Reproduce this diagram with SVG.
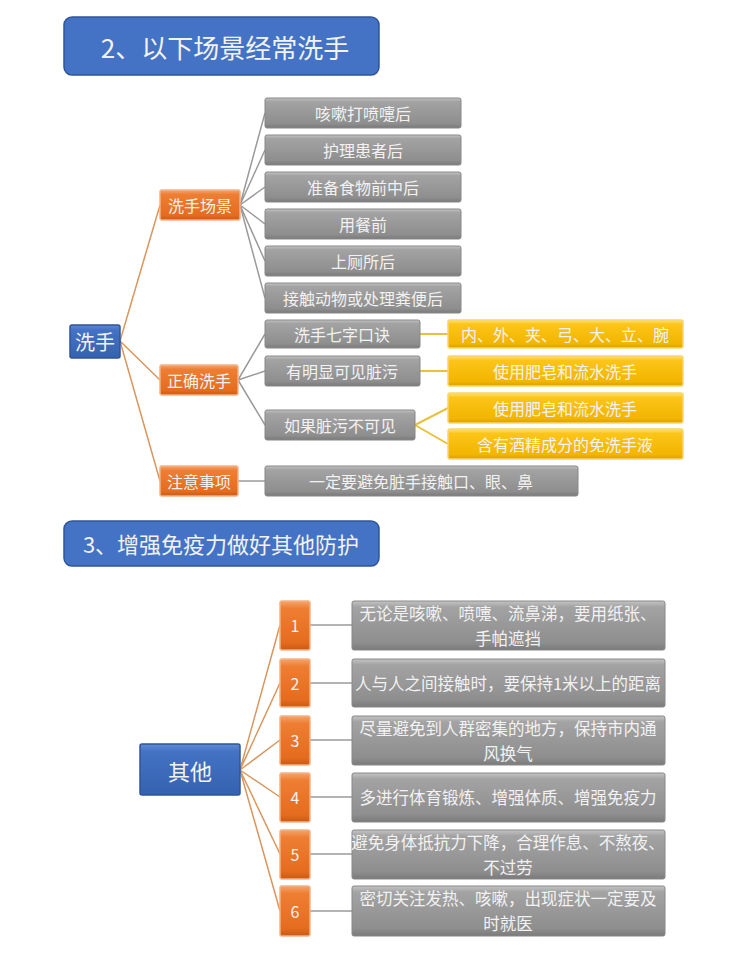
<svg xmlns="http://www.w3.org/2000/svg" width="754" height="961" viewBox="0 0 754 961">
<defs>
<linearGradient id="gGray" x1="0" y1="0" x2="0" y2="1">
<stop offset="0" stop-color="#c4c4c4"/><stop offset="0.12" stop-color="#a3a3a3"/><stop offset="0.85" stop-color="#8e8e8e"/><stop offset="1" stop-color="#7a7a7a"/>
</linearGradient>
<linearGradient id="gOrange" x1="0" y1="0" x2="0" y2="1">
<stop offset="0" stop-color="#f6a56d"/><stop offset="0.15" stop-color="#ee7e33"/><stop offset="0.85" stop-color="#e46c1f"/><stop offset="1" stop-color="#c85a14"/>
</linearGradient>
<linearGradient id="gYellow" x1="0" y1="0" x2="0" y2="1">
<stop offset="0" stop-color="#ffe27a"/><stop offset="0.15" stop-color="#fcc518"/><stop offset="0.85" stop-color="#f2b500"/><stop offset="1" stop-color="#d99f00"/>
</linearGradient>
<linearGradient id="gBlue" x1="0" y1="0" x2="0" y2="1">
<stop offset="0" stop-color="#5f8ad6"/><stop offset="0.15" stop-color="#4472c4"/><stop offset="1" stop-color="#3561b0"/>
</linearGradient>
</defs>
<style>
text{font-family:"Noto Sans CJK SC","Noto Sans",sans-serif;fill:#f2f2f2;text-anchor:middle;dominant-baseline:central}
.gray{fill:url(#gGray);stroke:#888;stroke-width:1}
.orange{fill:url(#gOrange);stroke:#f3b184;stroke-width:1.5}
.yellow{fill:url(#gYellow);stroke:#f7d66a;stroke-width:1.5}
.blue{fill:url(#gBlue);stroke:#2f5597;stroke-width:1.5}
.title{fill:#4472c4;stroke:#2f5597;stroke-width:1.5}
.t16{font-size:16px}
.t15{font-size:16.5px}
.lo{stroke:#d9965f;stroke-width:1.5;fill:none}
.lg{stroke:#9a9a9a;stroke-width:1.5;fill:none}
.ly{stroke:#e8c23a;stroke-width:2;fill:none}
</style>
<rect width="754" height="961" fill="#ffffff"/>

<g id="title1"><rect class="title" x="64" y="17" width="315" height="58" rx="8"/><text x="225" y="46" style="font-size:26px">2、以下场景经常洗手</text></g>
<g id="title2"><rect class="title" x="64" y="521" width="315" height="45" rx="8"/><text x="221" y="543" style="font-size:22px">3、增强免疫力做好其他防护</text></g>

<g id="connectors">
<path class="lo" d="M120 341L160 205M120 341L160 380M120 341L160 481"/>
<path class="lg" d="M240 205L265 113M240 205L265 150M240 205L265 187M240 205L265 224M240 205L265 261M240 205L265 298"/>
<path class="lg" d="M238 380L265 334M238 380L265 371M238 380L265 425M238 481L265 481"/>
<path class="ly" d="M420 334L448 334M420 371L448 371M415 425L448 408M415 425L448 444"/>
<path class="lo" d="M240 770L280 625M240 770L280 683M240 770L280 740M240 770L280 797M240 770L280 854M240 770L280 911"/>
<path class="lg" d="M310 625L352 625M310 683L352 683M310 740L352 740M310 797L352 797M310 854L352 854M310 911L352 911"/>
</g>

<g id="n-xishou"><rect class="blue" x="70" y="325" width="50" height="33" rx="2"/><text x="95" y="341" style="font-size:20px">洗手</text></g>
<g id="n-changjing"><rect class="orange" x="160" y="190" width="80" height="30" rx="2"/><text class="t16" x="200" y="205">洗手场景</text></g>
<g id="n-zhengque"><rect class="orange" x="160" y="365" width="78" height="30" rx="2"/><text class="t16" x="199" y="380">正确洗手</text></g>
<g id="n-zhuyi"><rect class="orange" x="160" y="466" width="78" height="30" rx="2"/><text class="t16" x="199" y="481">注意事项</text></g>

<g id="s1"><rect class="gray" x="265" y="98" width="196" height="30" rx="2"/><text class="t16" x="363" y="113">咳嗽打喷嚏后</text></g>
<g id="s2"><rect class="gray" x="265" y="135" width="196" height="30" rx="2"/><text class="t16" x="363" y="150">护理患者后</text></g>
<g id="s3"><rect class="gray" x="265" y="172" width="196" height="30" rx="2"/><text class="t16" x="363" y="187">准备食物前中后</text></g>
<g id="s4"><rect class="gray" x="265" y="209" width="196" height="30" rx="2"/><text class="t16" x="363" y="224">用餐前</text></g>
<g id="s5"><rect class="gray" x="265" y="246" width="196" height="30" rx="2"/><text class="t16" x="363" y="261">上厕所后</text></g>
<g id="s6"><rect class="gray" x="265" y="283" width="196" height="30" rx="2"/><text class="t16" x="363" y="298">接触动物或处理粪便后</text></g>

<g id="c1"><rect class="gray" x="265" y="320" width="155" height="28" rx="2"/><text class="t16" x="342" y="334">洗手七字口诀</text></g>
<g id="c2"><rect class="gray" x="265" y="356" width="155" height="30" rx="2"/><text class="t16" x="342" y="371">有明显可见脏污</text></g>
<g id="c3"><rect class="gray" x="265" y="410" width="150" height="30" rx="2"/><text class="t16" x="340" y="425">如果脏污不可见</text></g>
<g id="y1"><rect class="yellow" x="448" y="320" width="235" height="28" rx="2"/><text class="t16" x="565" y="334">内、外、夹、弓、大、立、腕</text></g>
<g id="y2"><rect class="yellow" x="448" y="356" width="235" height="30" rx="2"/><text class="t16" x="565" y="371">使用肥皂和流水洗手</text></g>
<g id="y3"><rect class="yellow" x="448" y="393" width="235" height="30" rx="2"/><text class="t16" x="565" y="408">使用肥皂和流水洗手</text></g>
<g id="y4"><rect class="yellow" x="448" y="429" width="235" height="30" rx="2"/><text class="t16" x="565" y="444">含有酒精成分的免洗手液</text></g>
<g id="z1"><rect class="gray" x="265" y="466" width="313" height="30" rx="2"/><text class="t16" x="421" y="481">一定要避免脏手接触口、眼、鼻</text></g>

<g id="n-qita"><rect class="blue" x="140" y="744" width="100" height="51" rx="2"/><text x="190" y="770" style="font-size:22px">其他</text></g>

<g id="o1"><rect class="orange" x="280" y="601" width="30" height="49" rx="2"/><text class="t16" x="295" y="625">1</text></g>
<g id="o2"><rect class="orange" x="280" y="659" width="30" height="48" rx="2"/><text class="t16" x="295" y="683">2</text></g>
<g id="o3"><rect class="orange" x="280" y="716" width="30" height="49" rx="2"/><text class="t16" x="295" y="740">3</text></g>
<g id="o4"><rect class="orange" x="280" y="773" width="30" height="49" rx="2"/><text class="t16" x="295" y="797">4</text></g>
<g id="o5"><rect class="orange" x="280" y="830" width="30" height="49" rx="2"/><text class="t16" x="295" y="854">5</text></g>
<g id="o6"><rect class="orange" x="280" y="886" width="30" height="50" rx="2"/><text class="t16" x="295" y="911">6</text></g>

<g id="g1"><rect class="gray" x="352" y="601" width="313" height="49" rx="2"/><text class="t15" x="508" y="613">无论是咳嗽、喷嚏、流鼻涕，要用纸张、</text><text class="t15" x="508" y="638">手帕遮挡</text></g>
<g id="g2"><rect class="gray" x="352" y="659" width="313" height="48" rx="2"/><text class="t15" x="508" y="683">人与人之间接触时，要保持1米以上的距离</text></g>
<g id="g3"><rect class="gray" x="352" y="716" width="313" height="49" rx="2"/><text class="t15" x="508" y="728">尽量避免到人群密集的地方，保持市内通</text><text class="t15" x="508" y="753">风换气</text></g>
<g id="g4"><rect class="gray" x="352" y="773" width="313" height="49" rx="2"/><text class="t15" x="508" y="797">多进行体育锻炼、增强体质、增强免疫力</text></g>
<g id="g5"><rect class="gray" x="352" y="830" width="313" height="49" rx="2"/><text class="t15" x="508" y="842">避免身体抵抗力下降，合理作息、不熬夜、</text><text class="t15" x="508" y="867">不过劳</text></g>
<g id="g6"><rect class="gray" x="352" y="886" width="313" height="50" rx="2"/><text class="t15" x="508" y="898">密切关注发热、咳嗽，出现症状一定要及</text><text class="t15" x="508" y="923">时就医</text></g>
</svg>
